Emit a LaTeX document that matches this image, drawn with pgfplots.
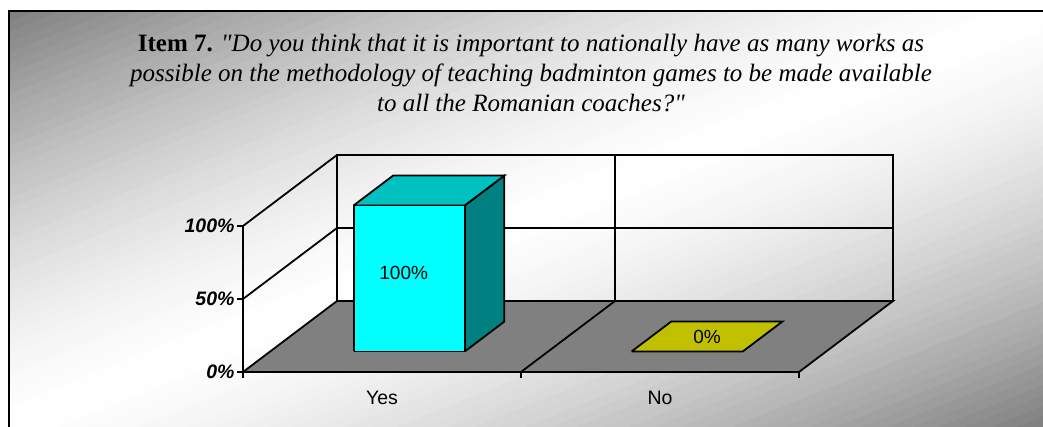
\documentclass[border=0pt]{standalone}
\usepackage{fontspec}
\setmainfont{Liberation Serif}[Ligatures=TeXOff]
\setsansfont{Liberation Sans}
\usepackage{pgfplots}
\pgfplotsset{compat=1.18}

\definecolor{floorgray}{HTML}{808080}
\definecolor{barfront}{HTML}{00FFFF}
\definecolor{bartop}{HTML}{00C0C0}
\definecolor{barside}{HTML}{008080}
\definecolor{noface}{HTML}{C0C000}

\begin{document}
\begin{tikzpicture}
\useasboundingbox (0,0) rectangle (1043pt,427pt);
\fill[white] (0,0) rectangle (1043pt,427pt);
% diagonal gradient: gray top left, white across the middle, gray bottom right
\begin{scope}[x=1pt, y=1pt]
\clip (9,0) rectangle (1043,416);
\foreach \i in {0,...,79} {
  \pgfmathsetmacro{\a}{\i*0.025}
  \pgfmathsetmacro{\b}{(\i+1)*0.025+0.004}
  \pgfmathsetmacro{\d}{abs((\i+0.5)*0.025-1)}
  \pgfmathtruncatemacro{\w}{100*(1-\d^1.5)}
  \fill[white!\w!floorgray]
    ({9+(\a+1)*1034},832) -- ({9+(\b+1)*1034},832) --
    ({9+(\b-1)*1034},0) -- ({9+(\a-1)*1034},0) -- cycle;
}
\end{scope}
\draw[black, line width=2pt] (9pt,0pt) -- (9pt,416pt) -- (1043pt,416pt);

\node[anchor=north, inner sep=0pt, align=center,
      font=\fontsize{25}{30}\selectfont] at (531pt,393pt)
  {\textbf{Item 7.} \textit{"Do you think that it is important to nationally have as many works as}\\
   \textit{possible on the methodology of teaching badminton games to be made available}\\
   \textit{to all the Romanian coaches?"}};

% oblique 3D box: x = category, y = depth, z = percent
\begin{axis}[
  at={(243pt,55pt)}, anchor=origin,
  x={(278pt,0pt)}, y={(94pt,71pt)}, z={(0pt,1.46pt)},
  xmin=0, xmax=2, ymin=0, ymax=1, zmin=0, zmax=100,
  hide axis, clip=false, disabledatascaling,
  every axis plot/.append style={line width=1.8pt, draw=black, mark=none},
  wall/.style={black, line width=1.8pt, mark=none},
]
% floor
\addplot3[fill=floorgray] coordinates {(0,0,0) (2,0,0) (2,1,0) (0,1,0) (0,0,0)};
\addplot3[wall] coordinates {(1,0,0) (1,1,0)};
% back wall
\addplot3[wall] coordinates {(0,1,0) (0,1,100) (2,1,100) (2,1,0)};
\addplot3[wall] coordinates {(0,1,50) (2,1,50)};
\addplot3[wall] coordinates {(1,1,0) (1,1,100)};
% left wall
\addplot3[wall] coordinates {(0,0,100) (0,1,100)};
\addplot3[wall] coordinates {(0,0,50) (0,1,50)};
% Yes: 100%
\addplot3[fill=barside] coordinates {(0.7,0.29,0) (0.7,0.71,0) (0.7,0.71,100) (0.7,0.29,100) (0.7,0.29,0)};
\addplot3[fill=bartop] coordinates {(0.3,0.29,100) (0.7,0.29,100) (0.7,0.71,100) (0.3,0.71,100) (0.3,0.29,100)};
\addplot3[fill=barfront] coordinates {(0.3,0.29,0) (0.7,0.29,0) (0.7,0.29,100) (0.3,0.29,100) (0.3,0.29,0)};
% No: 0%
\addplot3[fill=noface] coordinates {(1.3,0.29,0) (1.7,0.29,0) (1.7,0.71,0) (1.3,0.71,0) (1.3,0.29,0)};
\node[font=\sffamily\fontsize{19}{22}\selectfont] at (axis cs:0.48,0.29,54) {100\%};
\node[font=\sffamily\fontsize{19}{22}\selectfont] at (axis cs:1.5,0.5,0) {0\%};
\end{axis}

% ticks and category labels
\begin{axis}[
  at={(243pt,55pt)}, anchor=origin,
  x={(278pt,0pt)}, y={(0pt,1.46pt)},
  xmin=0, xmax=2, ymin=0, ymax=100,
  axis lines*=left,
  axis line style={line width=1.8pt},
  xtick={0,1,2}, xticklabels={Yes,No}, x tick label as interval,
  ytick={0,50,100}, yticklabels={0\%,50\%,100\%},
  tick align=outside, major tick length=6pt,
  tick style={black, line width=1.2pt},
  /pgf/number format/assume math mode=true,
  xticklabel style={font=\sffamily\fontsize{19.5}{22}\selectfont, yshift=-10pt},
  yticklabel style={font=\sffamily\bfseries\itshape\fontsize{19.5}{22}\selectfont, xshift=1pt},
]
\end{axis}
\end{tikzpicture}
\end{document}
